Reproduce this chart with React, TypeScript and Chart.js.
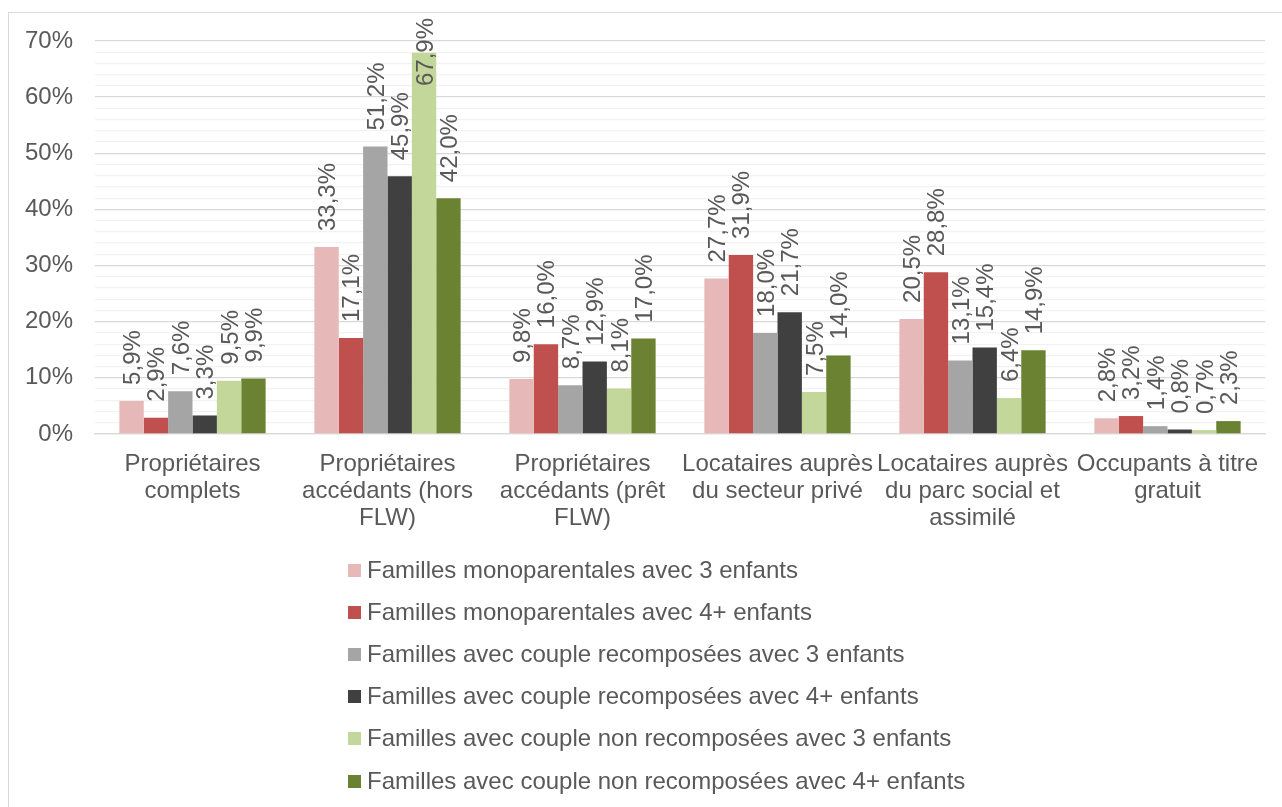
import React, { useEffect, useRef } from "react";
import { Chart, registerables } from "chart.js";

Chart.register(...registerables);

const categories: string[][] = [
  ["Propriétaires", "complets"],
  ["Propriétaires", "accédants (hors", "FLW)"],
  ["Propriétaires", "accédants (prêt", "FLW)"],
  ["Locataires auprès", "du secteur privé"],
  ["Locataires auprès", "du parc social et", "assimilé"],
  ["Occupants à titre", "gratuit"],
];

const seriesNames = [
  "Familles monoparentales avec 3 enfants",
  "Familles monoparentales avec 4+ enfants",
  "Familles avec couple recomposées avec 3 enfants",
  "Familles avec couple recomposées avec 4+ enfants",
  "Familles avec couple non recomposées avec 3 enfants",
  "Familles avec couple non recomposées avec 4+ enfants",
];

const monoparentales3 = [5.9, 33.3, 9.8, 27.7, 20.5, 2.8];
const monoparentales4 = [2.9, 17.1, 16.0, 31.9, 28.8, 3.2];
const recomposees3 = [7.6, 51.2, 8.7, 18.0, 13.1, 1.4];
const recomposees4 = [3.3, 45.9, 12.9, 21.7, 15.4, 0.8];
const nonRecomposees3 = [9.5, 67.9, 8.1, 7.5, 6.4, 0.7];
const nonRecomposees4 = [9.9, 42.0, 17.0, 14.0, 14.9, 2.3];

const seriesColors = ["#E6B8B7", "#C0504D", "#A5A5A5", "#404040", "#C4D79B", "#6A8232"];

const FONT = "'Liberation Sans', Arial, sans-serif";
const TEXT = "#595959";

const fmt = (v: number) => v.toFixed(1).replace(".", ",") + "%";

const labelPlugin = {
  id: "barLabels",
  afterDatasetsDraw(chart: any) {
    const ctx = chart.ctx;
    ctx.save();
    ctx.font = `24px ${FONT}`;
    ctx.fillStyle = TEXT;
    ctx.textAlign = "left";
    ctx.textBaseline = "alphabetic";
    chart.data.datasets.forEach((ds: any, i: number) => {
      const meta = chart.getDatasetMeta(i);
      meta.data.forEach((bar: any, j: number) => {
        const txt = fmt(ds.data[j]);
        const w = ctx.measureText(txt).width;
        let start = bar.y - 16;
        if (start - w < 5) start = 5 + w;
        ctx.save();
        ctx.translate(bar.x + 8.5, start);
        ctx.rotate(-Math.PI / 2);
        ctx.fillText(txt, 0, 0);
        ctx.restore();
      });
    });
    ctx.restore();
  },
};

const legendPlugin = {
  id: "customLegend",
  afterDraw(chart: any) {
    const ctx = chart.ctx;
    ctx.save();
    ctx.font = `24px ${FONT}`;
    ctx.textBaseline = "middle";
    ctx.textAlign = "left";
    const left = 339;
    const top = 557;
    const step = 42.2;
    chart.data.datasets.forEach((ds: any, i: number) => {
      const cy = top + i * step;
      ctx.fillStyle = ds.backgroundColor;
      ctx.fillRect(left, Math.round(cy - 6.5), 13, 13);
      ctx.fillStyle = TEXT;
      ctx.fillText(ds.label, left + 19, cy + 1);
    });
    ctx.restore();
  },
};

export default function App() {
  const ref = useRef<HTMLCanvasElement | null>(null);

  useEffect(() => {
    document.documentElement.style.overflow = "hidden";
    document.body.style.overflow = "hidden";
    const seriesData = [
      monoparentales3,
      monoparentales4,
      recomposees3,
      recomposees4,
      nonRecomposees3,
      nonRecomposees4,
    ];
    const chart = new Chart(ref.current as HTMLCanvasElement, {
      type: "bar",
      data: {
        labels: categories as any,
        datasets: seriesData.map((d, i) => ({
          label: seriesNames[i],
          data: d,
          backgroundColor: seriesColors[i],
          borderWidth: 0,
          barPercentage: 1,
          categoryPercentage: 0.75,
        })),
      },
      options: {
        animation: false,
        responsive: false,
        maintainAspectRatio: false,
        layout: { padding: { top: 28, bottom: 259, left: 0, right: 17 } },
        plugins: {
          legend: { display: false },
          tooltip: { enabled: false },
        },
        scales: {
          x: {
            grid: { display: false, drawTicks: false },
            border: { display: true, color: "#D9D9D9", width: 1.33 },
            ticks: {
              font: { family: FONT, size: 24, lineHeight: 1.12 },
              color: TEXT,
              padding: 17,
              maxRotation: 0,
              autoSkip: false,
            },
            afterFit: (scale: any) => {
              scale.height = 120;
              scale.paddingTop = 0;
              scale.paddingBottom = 0;
            },
          },
          y: {
            min: 0,
            max: 70,
            ticks: {
              stepSize: 2,
              autoSkip: false,
              font: { family: FONT, size: 24 },
              color: TEXT,
              padding: 22,
              callback: (v: any) => (Number(v) % 10 === 0 ? v + "%" : ""),
            },
            grid: {
              drawTicks: false,
              lineWidth: 1.33,
              color: (c: any) =>
                c.tick && Math.round(c.tick.value) % 10 === 0 ? "#D9D9D9" : "#F2F2F2",
            },
            border: { display: false },
            afterFit: (scale: any) => {
              scale.width = 86;
              scale.paddingTop = 0;
              scale.paddingBottom = 0;
            },
          },
        },
      },
      plugins: [labelPlugin, legendPlugin],
    });
    return () => chart.destroy();
  }, []);

  return (
    <div
      style={{
        position: "absolute",
        left: 8,
        top: 12,
        width: 1273,
        height: 800,
        border: "1px solid #D9D9D9",
        background: "#fff",
      }}
    >
      <canvas ref={ref} width={1273} height={800} style={{ display: "block" }} />
    </div>
  );
}
